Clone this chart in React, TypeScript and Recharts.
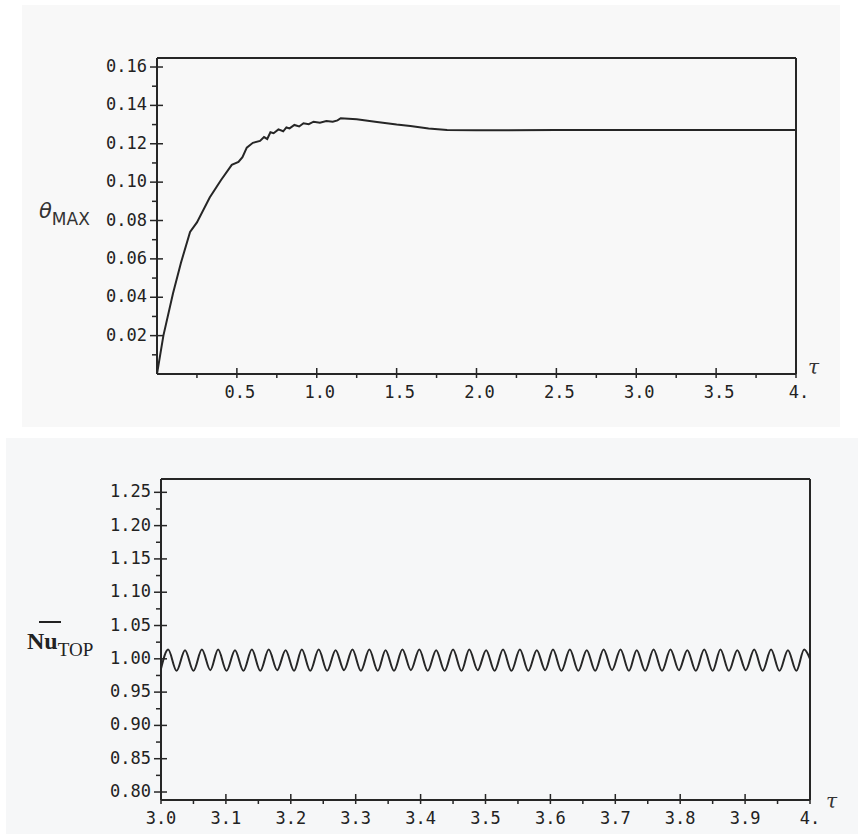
import { Line, LineChart, XAxis, YAxis } from 'recharts'

// top panel: maximum temperature vs time
const TAU_THETA = [
  0, 0.04, 0.1, 0.15, 0.207, 0.25, 0.33, 0.4, 0.468, 0.51, 0.535, 0.562, 0.6,
  0.645, 0.67, 0.69, 0.71, 0.73, 0.76, 0.79, 0.81, 0.83, 0.86, 0.89, 0.917,
  0.95, 0.98, 1.02, 1.06, 1.1, 1.13, 1.15, 1.25, 1.377, 1.5, 1.586, 1.7, 1.816,
  2.0, 2.5, 3.0, 3.5, 4.0,
]
const THETA_MAX = [
  0, 0.02, 0.042, 0.058, 0.074, 0.079, 0.092, 0.101, 0.109, 0.1105, 0.113,
  0.118, 0.1205, 0.1215, 0.1235, 0.1225, 0.126, 0.1255, 0.1275, 0.1265, 0.1285,
  0.128, 0.1298, 0.129, 0.1307, 0.1302, 0.1315, 0.131, 0.1318, 0.1315, 0.1322,
  0.1333, 0.1328, 0.1314, 0.13, 0.1292, 0.128, 0.1272, 0.127, 0.1272, 0.1272,
  0.1272, 0.1272,
]
const THETA_MAJOR = [0.02, 0.04, 0.06, 0.08, 0.1, 0.12, 0.14, 0.16]
const THETA_MINOR = [0.01, 0.03, 0.05, 0.07, 0.09, 0.11, 0.13, 0.15]
const TAU1_MAJOR = [0.5, 1.0, 1.5, 2.0, 2.5, 3.0, 3.5, 4.0]
const TAU1_MINOR = [0.25, 0.75, 1.25, 1.75, 2.25, 2.75, 3.25, 3.75]
const TAU1_LABELS = ['0.5', '1.0', '1.5', '2.0', '2.5', '3.0', '3.5', '4.']

// bottom panel: Nusselt number at the top wall, peaks and troughs
const TAU_NU = [
  3.0, 3.011, 3.024, 3.037, 3.05, 3.063, 3.076, 3.088, 3.101, 3.114, 3.127,
  3.14, 3.153, 3.166, 3.179, 3.192, 3.205, 3.217, 3.23, 3.243, 3.256, 3.269,
  3.282, 3.295, 3.308, 3.321, 3.334, 3.346, 3.359, 3.372, 3.385, 3.398, 3.411,
  3.424, 3.437, 3.45, 3.463, 3.475, 3.488, 3.501, 3.514, 3.527, 3.54, 3.553,
  3.566, 3.579, 3.592, 3.604, 3.617, 3.63, 3.643, 3.656, 3.669, 3.682, 3.695,
  3.708, 3.721, 3.733, 3.746, 3.759, 3.772, 3.785, 3.798, 3.811, 3.824, 3.837,
  3.85, 3.862, 3.875, 3.888, 3.901, 3.914, 3.927, 3.94, 3.953, 3.966, 3.979,
  3.991, 4.0,
]
const NU_TOP = [
  0.985, 1.014, 0.982, 1.013, 0.982, 1.014, 0.983, 1.014, 0.982, 1.013, 0.982,
  1.014, 0.982, 1.014, 0.983, 1.013, 0.982, 1.014, 0.982, 1.014, 0.982, 1.013,
  0.983, 1.014, 0.982, 1.014, 0.982, 1.013, 0.982, 1.014, 0.983, 1.014, 0.982,
  1.013, 0.982, 1.014, 0.982, 1.014, 0.983, 1.013, 0.982, 1.014, 0.982, 1.014,
  0.982, 1.013, 0.983, 1.014, 0.982, 1.014, 0.982, 1.013, 0.982, 1.014, 0.983,
  1.014, 0.982, 1.013, 0.982, 1.014, 0.982, 1.014, 0.983, 1.013, 0.982, 1.014,
  0.982, 1.014, 0.982, 1.013, 0.983, 1.014, 0.982, 1.014, 0.982, 1.013, 0.982,
  1.014, 1.0,
]
const NU_MAJOR = [0.8, 0.85, 0.9, 0.95, 1.0, 1.05, 1.1, 1.15, 1.2, 1.25]
const NU_MINOR = [0.825, 0.875, 0.925, 0.975, 1.025, 1.075, 1.125, 1.175, 1.225]
const TAU2_MAJOR = [3.0, 3.1, 3.2, 3.3, 3.4, 3.5, 3.6, 3.7, 3.8, 3.9, 4.0]
const TAU2_MINOR = [3.05, 3.15, 3.25, 3.35, 3.45, 3.55, 3.65, 3.75, 3.85, 3.95]
const TAU2_LABELS = ['3.0', '3.1', '3.2', '3.3', '3.4', '3.5', '3.6', '3.7', '3.8', '3.9', '4.']

const thetaData = TAU_THETA.map((t, i) => ({ tau: t, v: THETA_MAX[i] }))
const nuData = TAU_NU.map((t, i) => ({ tau: t, v: NU_TOP[i] }))

const INK = '#262626'
const MONO = '"DejaVu Sans Mono", monospace'

const indexOf = (list: number[], v: number) =>
  list.findIndex((m) => Math.abs(m - v) < 1e-6)

function YTick(props: any) {
  const { x, y, payload, majors, digits } = props
  const isMajor = indexOf(majors, payload.value) >= 0
  if (!isMajor) {
    return <line x1={x - 5} x2={x} y1={y} y2={y} stroke={INK} strokeWidth={1.5} />
  }
  return (
    <g>
      <line x1={x - 7} x2={x + 6} y1={y} y2={y} stroke={INK} strokeWidth={1.5} />
      <text
        x={x - 10}
        y={y}
        dy={5}
        textAnchor="end"
        fontFamily={MONO}
        fontSize={17}
        fill="#222"
      >
        {payload.value.toFixed(digits)}
      </text>
    </g>
  )
}

function XTick(props: any) {
  const { x, y, payload, majors, labels, shift } = props
  const idx = indexOf(majors, payload.value)
  if (idx < 0) {
    return <line x1={x} x2={x} y1={y} y2={y + 4} stroke={INK} strokeWidth={1.5} />
  }
  return (
    <g>
      <line x1={x} x2={x} y1={y - 6} y2={y + 4} stroke={INK} strokeWidth={1.5} />
      <text
        x={x + shift}
        y={y + 18}
        dy={6}
        textAnchor="middle"
        fontFamily={MONO}
        fontSize={17}
        fill="#222"
      >
        {labels[idx]}
      </text>
    </g>
  )
}

interface PanelProps {
  data: { tau: number; v: number }[]
  xDomain: [number, number]
  yDomain: [number, number]
  xMajor: number[]
  xMinor: number[]
  xLabels: string[]
  labelShift: number
  yMajor: number[]
  yMinor: number[]
  digits: number
  height: number
  margin: { top: number; left: number; right: number; bottom: number }
  curve: 'linear' | 'monotone'
}

// axes are 1px thick so recharts still draws them; margins are reduced by 1 to compensate
function Panel(p: PanelProps) {
  const axisLine = { stroke: INK, strokeWidth: 2 }
  const m = {
    top: p.margin.top - 1,
    left: p.margin.left - 1,
    right: p.margin.right - 1,
    bottom: p.margin.bottom - 1,
  }
  return (
    <LineChart width={858} height={p.height} data={p.data} margin={m}>
      <XAxis
        dataKey="tau"
        type="number"
        domain={p.xDomain}
        ticks={[...p.xMajor, ...p.xMinor].sort((a, b) => a - b)}
        interval={0}
        tickLine={false}
        tickSize={0}
        tickMargin={0}
        height={1}
        axisLine={axisLine}
        allowDataOverflow
        tick={(t: any) => (
          <XTick {...t} majors={p.xMajor} labels={p.xLabels} shift={p.labelShift} />
        )}
      />
      <XAxis
        xAxisId="frame"
        orientation="top"
        type="number"
        domain={p.xDomain}
        height={1}
        tick={false}
        tickLine={false}
        axisLine={axisLine}
        allowDataOverflow
      />
      <YAxis
        type="number"
        domain={p.yDomain}
        ticks={[...p.yMajor, ...p.yMinor].sort((a, b) => a - b)}
        interval={0}
        tickLine={false}
        tickSize={0}
        tickMargin={0}
        width={1}
        axisLine={axisLine}
        allowDataOverflow
        tick={(t: any) => <YTick {...t} majors={p.yMajor} digits={p.digits} />}
      />
      <YAxis
        yAxisId="frame"
        orientation="right"
        type="number"
        domain={p.yDomain}
        width={1}
        tick={false}
        tickLine={false}
        axisLine={axisLine}
        allowDataOverflow
      />
      <Line
        dataKey="v"
        type={p.curve}
        stroke={INK}
        strokeWidth={2}
        dot={false}
        isAnimationActive={false}
      />
    </LineChart>
  )
}

const tauStyle: React.CSSProperties = {
  position: 'absolute',
  fontFamily: '"DejaVu Serif", serif',
  fontStyle: 'italic',
  fontSize: 20,
  color: '#333',
  lineHeight: 1,
}

export default function App() {
  return (
    <div style={{ position: 'absolute', left: 0, top: 0, width: 858, height: 834, background: '#fff' }}>
      <div style={{ position: 'absolute', left: 22, top: 5, width: 818, height: 422, background: '#f8f8f8' }} />
      <div style={{ position: 'absolute', left: 6, top: 438, width: 852, height: 396, background: '#f6f7f8' }} />

      <div style={{ position: 'absolute', left: 0, top: 0 }}>
        <Panel
          data={thetaData}
          xDomain={[0, 4]}
          yDomain={[0, 0.1647]}
          xMajor={TAU1_MAJOR}
          xMinor={TAU1_MINOR}
          xLabels={TAU1_LABELS}
          labelShift={3}
          yMajor={THETA_MAJOR}
          yMinor={THETA_MINOR}
          digits={2}
          height={430}
          margin={{ top: 58, left: 157, right: 62, bottom: 56 }}
          curve="linear"
        />
      </div>
      <div style={{ position: 'absolute', left: 0, top: 430 }}>
        <Panel
          data={nuData}
          xDomain={[3, 4]}
          yDomain={[0.788, 1.27]}
          xMajor={TAU2_MAJOR}
          xMinor={TAU2_MINOR}
          xLabels={TAU2_LABELS}
          labelShift={0}
          yMajor={NU_MAJOR}
          yMinor={NU_MINOR}
          digits={2}
          height={404}
          margin={{ top: 49, left: 161, right: 48, bottom: 34 }}
          curve="monotone"
        />
      </div>

      {/* theta_MAX */}
      <div style={{ position: 'absolute', left: 39, top: 201, fontFamily: '"DejaVu Sans", sans-serif', color: '#333', lineHeight: 1 }}>
        <span style={{ fontSize: 21, fontStyle: 'italic' }}>θ</span>
        <span style={{ fontSize: 17, position: 'relative', top: 7 }}>MAX</span>
      </div>
      <div style={{ ...tauStyle, left: 808, top: 357 }}>τ</div>

      {/* Nu_TOP with overbar */}
      <div style={{ position: 'absolute', left: 39, top: 621, width: 22, height: 2, background: '#222' }} />
      <div style={{ position: 'absolute', left: 27, top: 629, fontFamily: '"Liberation Serif", serif', color: '#222', lineHeight: 1 }}>
        <span style={{ fontSize: 24, fontWeight: 'bold' }}>Nu</span>
        <span style={{ fontSize: 19, position: 'relative', top: 7 }}>TOP</span>
      </div>
      <div style={{ ...tauStyle, left: 826, top: 791 }}>τ</div>
    </div>
  )
}
